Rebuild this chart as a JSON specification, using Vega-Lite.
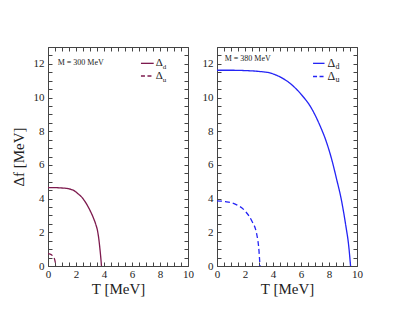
{
  "$schema": "https://vega.github.io/schema/vega-lite/v6.json",
  "background": "white",
  "padding": {"left": 11, "top": 46, "right": 5, "bottom": 5},
  "spacing": 8,
  "config": {
    "view": {"stroke": null},
    "font": "Liberation Serif",
    "text": {"font": "Liberation Serif", "color": "#222"},
    "axis": {
      "labelFont": "Liberation Serif",
      "titleFont": "Liberation Serif",
      "labelFontSize": 11,
      "labelColor": "#222",
      "titleColor": "#222",
      "titleFontWeight": "normal",
      "titleFontSize": 15,
      "grid": false,
      "domainColor": "#444",
      "tickColor": "#444",
      "format": "d"
    }
  },
  "datasets": {
    "curves": [
      {"panel": "L", "series": "d", "T": 0, "v": 4.65},
      {"panel": "L", "series": "d", "T": 0.5, "v": 4.65},
      {"panel": "L", "series": "d", "T": 1.0, "v": 4.63},
      {"panel": "L", "series": "d", "T": 1.46, "v": 4.59},
      {"panel": "L", "series": "d", "T": 1.8, "v": 4.5},
      {"panel": "L", "series": "d", "T": 2.17, "v": 4.27},
      {"panel": "L", "series": "d", "T": 2.5, "v": 4.0},
      {"panel": "L", "series": "d", "T": 2.76, "v": 3.67},
      {"panel": "L", "series": "d", "T": 3.0, "v": 3.3},
      {"panel": "L", "series": "d", "T": 3.23, "v": 2.88},
      {"panel": "L", "series": "d", "T": 3.4, "v": 2.5},
      {"panel": "L", "series": "d", "T": 3.54, "v": 2.08},
      {"panel": "L", "series": "d", "T": 3.63, "v": 1.6},
      {"panel": "L", "series": "d", "T": 3.7, "v": 1.09},
      {"panel": "L", "series": "d", "T": 3.77, "v": 0.5},
      {"panel": "L", "series": "d", "T": 3.82, "v": 0},
      {"panel": "L", "series": "u", "T": 0, "v": 0.73},
      {"panel": "L", "series": "u", "T": 0.15, "v": 0.71},
      {"panel": "L", "series": "u", "T": 0.3, "v": 0.63},
      {"panel": "L", "series": "u", "T": 0.42, "v": 0.5},
      {"panel": "L", "series": "u", "T": 0.5, "v": 0.3},
      {"panel": "L", "series": "u", "T": 0.54, "v": 0.1},
      {"panel": "L", "series": "u", "T": 0.55, "v": 0},
      {"panel": "R", "series": "d", "T": 0, "v": 11.62},
      {"panel": "R", "series": "d", "T": 1, "v": 11.62},
      {"panel": "R", "series": "d", "T": 2, "v": 11.6},
      {"panel": "R", "series": "d", "T": 3, "v": 11.55},
      {"panel": "R", "series": "d", "T": 3.83, "v": 11.45},
      {"panel": "R", "series": "d", "T": 4.56, "v": 11.2},
      {"panel": "R", "series": "d", "T": 5.28, "v": 10.8},
      {"panel": "R", "series": "d", "T": 6.0, "v": 10.2},
      {"panel": "R", "series": "d", "T": 6.72, "v": 9.4},
      {"panel": "R", "series": "d", "T": 7.32, "v": 8.4},
      {"panel": "R", "series": "d", "T": 7.8, "v": 7.4},
      {"panel": "R", "series": "d", "T": 8.17, "v": 6.4},
      {"panel": "R", "series": "d", "T": 8.53, "v": 5.2},
      {"panel": "R", "series": "d", "T": 8.89, "v": 3.9},
      {"panel": "R", "series": "d", "T": 9.18, "v": 2.5},
      {"panel": "R", "series": "d", "T": 9.42, "v": 1.1},
      {"panel": "R", "series": "d", "T": 9.54, "v": 0},
      {"panel": "R", "series": "u", "T": 0, "v": 3.87},
      {"panel": "R", "series": "u", "T": 0.6, "v": 3.82},
      {"panel": "R", "series": "u", "T": 1.3, "v": 3.67},
      {"panel": "R", "series": "u", "T": 2.0, "v": 3.27},
      {"panel": "R", "series": "u", "T": 2.48, "v": 2.68},
      {"panel": "R", "series": "u", "T": 2.84, "v": 1.88},
      {"panel": "R", "series": "u", "T": 3.0, "v": 0.89},
      {"panel": "R", "series": "u", "T": 3.07, "v": 0}
    ]
  },
  "hconcat": [
    {
      "width": 140,
      "height": 219,
      "resolve": {"axis": {"x": "independent", "y": "independent"}},
      "layer": [
        {
          "data": {"name": "curves"},
          "transform": [{"filter": "datum.panel === 'L'"}],
          "mark": {"type": "line", "color": "#7d1a4e", "strokeWidth": 1.3, "clip": true, "interpolate": "monotone"},
          "encoding": {
            "x": {"field": "T", "type": "quantitative", "scale": {"domain": [0, 10], "nice": false},
              "axis": {"title": "T [MeV]", "values": [0,0.5,1,1.5,2,2.5,3,3.5,4,4.5,5,5.5,6,6.5,7,7.5,8,8.5,9,9.5,10],
                "labelExpr": "datum.value % 2 === 0 ? datum.label : ''", "tickSize": -4, "labelPadding": 6, "titlePadding": 2, "labelFlush": false}},
            "y": {"field": "v", "type": "quantitative", "scale": {"domain": [0, 13], "nice": false},
              "axis": {"title": "Δf [MeV]", "values": [0,0.5,1,1.5,2,2.5,3,3.5,4,4.5,5,5.5,6,6.5,7,7.5,8,8.5,9,9.5,10,10.5,11,11.5,12,12.5,13],
                "labelExpr": "datum.value % 2 === 0 && datum.value < 13 ? datum.label : ''", "tickSize": -4, "labelPadding": 8, "titlePadding": 7}},
            "strokeDash": {"field": "series", "type": "nominal", "scale": {"domain": ["d", "u"], "range": [[1, 0], [5, 3]]}, "legend": null}
          }
        },
        {
          "data": {"name": "curves"},
          "transform": [{"filter": "datum.panel === 'L'"}],
          "mark": {"type": "line", "opacity": 0},
          "encoding": {
            "x": {"field": "T", "type": "quantitative", "axis": {"orient": "top", "title": null, "labels": false, "values": [0,0.5,1,1.5,2,2.5,3,3.5,4,4.5,5,5.5,6,6.5,7,7.5,8,8.5,9,9.5,10], "tickSize": -4}},
            "y": {"field": "v", "type": "quantitative", "axis": {"orient": "right", "title": null, "labels": false, "values": [0,0.5,1,1.5,2,2.5,3,3.5,4,4.5,5,5.5,6,6.5,7,7.5,8,8.5,9,9.5,10,10.5,11,11.5,12,12.5,13], "tickSize": -4}}
          }
        },
        {
          "data": {"values": [{}]},
          "mark": {"type": "rule", "color": "#7d1a4e", "strokeWidth": 1.3},
          "encoding": {"x": {"datum": 6.64, "type": "quantitative", "axis": null}, "x2": {"datum": 7.55}, "y": {"datum": 12.03, "type": "quantitative", "axis": null}}
        },
        {
          "data": {"values": [{}]},
          "mark": {"type": "rule", "color": "#7d1a4e", "strokeWidth": 1.3, "strokeDash": [4, 2.5]},
          "encoding": {"x": {"datum": 6.64, "type": "quantitative", "axis": null}, "x2": {"datum": 7.55}, "y": {"datum": 11.28, "type": "quantitative", "axis": null}}
        },
        {
          "data": {"values": [{}]},
          "mark": {"type": "text", "align": "left", "baseline": "middle", "fontSize": 11, "dx": 2},
          "encoding": {"x": {"datum": 7.55, "type": "quantitative", "axis": null}, "y": {"datum": 12.03, "type": "quantitative", "axis": null}, "text": {"value": "Δ"}}
        },
        {
          "data": {"values": [{}]},
          "mark": {"type": "text", "align": "left", "baseline": "middle", "fontSize": 7, "dx": 9, "dy": 4},
          "encoding": {"x": {"datum": 7.55, "type": "quantitative", "axis": null}, "y": {"datum": 12.03, "type": "quantitative", "axis": null}, "text": {"value": "d"}}
        },
        {
          "data": {"values": [{}]},
          "mark": {"type": "text", "align": "left", "baseline": "middle", "fontSize": 11, "dx": 2},
          "encoding": {"x": {"datum": 7.55, "type": "quantitative", "axis": null}, "y": {"datum": 11.28, "type": "quantitative", "axis": null}, "text": {"value": "Δ"}}
        },
        {
          "data": {"values": [{}]},
          "mark": {"type": "text", "align": "left", "baseline": "middle", "fontSize": 7, "dx": 9, "dy": 4},
          "encoding": {"x": {"datum": 7.55, "type": "quantitative", "axis": null}, "y": {"datum": 11.28, "type": "quantitative", "axis": null}, "text": {"value": "u"}}
        },
        {
          "data": {"values": [{}]},
          "mark": {"type": "text", "align": "left", "baseline": "middle", "fontSize": 8},
          "encoding": {"x": {"datum": 0.69, "type": "quantitative", "axis": null}, "y": {"datum": 12.03, "type": "quantitative", "axis": null}, "text": {"value": "M = 300 MeV"}}
        }
      ]
    },
    {
      "width": 140,
      "height": 219,
      "resolve": {"axis": {"x": "independent", "y": "independent"}},
      "layer": [
        {
          "data": {"name": "curves"},
          "transform": [{"filter": "datum.panel === 'R'"}],
          "mark": {"type": "line", "color": "#2424f5", "strokeWidth": 1.3, "clip": true, "interpolate": "monotone"},
          "encoding": {
            "x": {"field": "T", "type": "quantitative", "scale": {"domain": [0, 10], "nice": false},
              "axis": {"title": "T [MeV]", "values": [0,0.5,1,1.5,2,2.5,3,3.5,4,4.5,5,5.5,6,6.5,7,7.5,8,8.5,9,9.5,10],
                "labelExpr": "datum.value % 2 === 0 ? datum.label : ''", "tickSize": -4, "labelPadding": 6, "titlePadding": 2, "labelFlush": false}},
            "y": {"field": "v", "type": "quantitative", "scale": {"domain": [0, 13], "nice": false},
              "axis": {"title": null, "values": [0,0.5,1,1.5,2,2.5,3,3.5,4,4.5,5,5.5,6,6.5,7,7.5,8,8.5,9,9.5,10,10.5,11,11.5,12,12.5,13],
                "labelExpr": "datum.value % 2 === 0 && datum.value < 13 ? datum.label : ''", "tickSize": -4, "labelPadding": 8}},
            "strokeDash": {"field": "series", "type": "nominal", "scale": {"domain": ["d", "u"], "range": [[1, 0], [5, 3]]}, "legend": null}
          }
        },
        {
          "data": {"name": "curves"},
          "transform": [{"filter": "datum.panel === 'R'"}],
          "mark": {"type": "line", "opacity": 0},
          "encoding": {
            "x": {"field": "T", "type": "quantitative", "axis": {"orient": "top", "title": null, "labels": false, "values": [0,0.5,1,1.5,2,2.5,3,3.5,4,4.5,5,5.5,6,6.5,7,7.5,8,8.5,9,9.5,10], "tickSize": -4}},
            "y": {"field": "v", "type": "quantitative", "axis": {"orient": "right", "title": null, "labels": false, "values": [0,0.5,1,1.5,2,2.5,3,3.5,4,4.5,5,5.5,6,6.5,7,7.5,8,8.5,9,9.5,10,10.5,11,11.5,12,12.5,13], "tickSize": -4}}
          }
        },
        {
          "data": {"values": [{}]},
          "mark": {"type": "rule", "color": "#2424f5", "strokeWidth": 1.3},
          "encoding": {"x": {"datum": 6.86, "type": "quantitative", "axis": null}, "x2": {"datum": 7.68}, "y": {"datum": 12.03, "type": "quantitative", "axis": null}}
        },
        {
          "data": {"values": [{}]},
          "mark": {"type": "rule", "color": "#2424f5", "strokeWidth": 1.3, "strokeDash": [4, 2.5]},
          "encoding": {"x": {"datum": 6.86, "type": "quantitative", "axis": null}, "x2": {"datum": 7.68}, "y": {"datum": 11.25, "type": "quantitative", "axis": null}}
        },
        {
          "data": {"values": [{}]},
          "mark": {"type": "text", "align": "left", "baseline": "middle", "fontSize": 12, "dx": 3},
          "encoding": {"x": {"datum": 7.68, "type": "quantitative", "axis": null}, "y": {"datum": 12.03, "type": "quantitative", "axis": null}, "text": {"value": "Δ"}}
        },
        {
          "data": {"values": [{}]},
          "mark": {"type": "text", "align": "left", "baseline": "middle", "fontSize": 8, "dx": 11, "dy": 4},
          "encoding": {"x": {"datum": 7.68, "type": "quantitative", "axis": null}, "y": {"datum": 12.03, "type": "quantitative", "axis": null}, "text": {"value": "d"}}
        },
        {
          "data": {"values": [{}]},
          "mark": {"type": "text", "align": "left", "baseline": "middle", "fontSize": 12, "dx": 3},
          "encoding": {"x": {"datum": 7.68, "type": "quantitative", "axis": null}, "y": {"datum": 11.25, "type": "quantitative", "axis": null}, "text": {"value": "Δ"}}
        },
        {
          "data": {"values": [{}]},
          "mark": {"type": "text", "align": "left", "baseline": "middle", "fontSize": 8, "dx": 11, "dy": 4},
          "encoding": {"x": {"datum": 7.68, "type": "quantitative", "axis": null}, "y": {"datum": 11.25, "type": "quantitative", "axis": null}, "text": {"value": "u"}}
        },
        {
          "data": {"values": [{}]},
          "mark": {"type": "text", "align": "left", "baseline": "middle", "fontSize": 8},
          "encoding": {"x": {"datum": 0.55, "type": "quantitative", "axis": null}, "y": {"datum": 12.27, "type": "quantitative", "axis": null}, "text": {"value": "M = 380 MeV"}}
        }
      ]
    }
  ]
}
